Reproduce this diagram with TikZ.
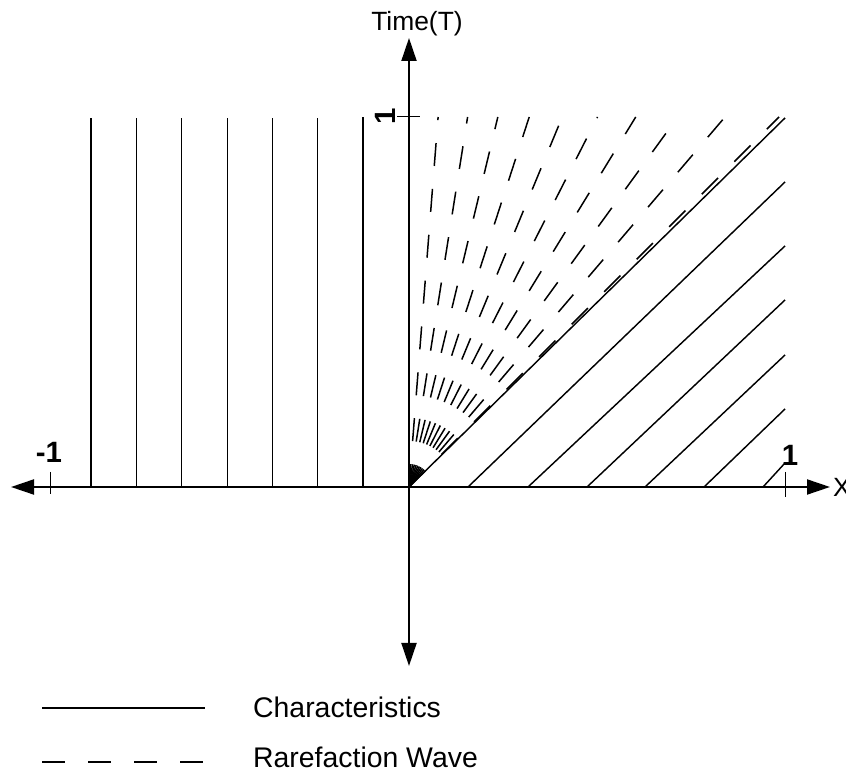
\documentclass[tikz,border=0pt]{standalone}
\usepackage{fontspec}
\setmainfont{Liberation Sans}
\usetikzlibrary{arrows.meta}
\tikzset{
  axisline/.style={line width=2bp, arrows={Triangle[length=23bp, width=15bp]-Triangle[length=23bp, width=15bp]}},
  charline/.style={line width=1.45bp},
  fanline/.style={line width=1.5bp, dash pattern=on 23bp off 23bp},
  tickline/.style={line width=0.9bp},
  lbl/.style={inner sep=0pt, font=\fontsize{26.5}{30}\selectfont},
  numlbl/.style={inner sep=0pt, font=\fontsize{29.5}{32}\selectfont\bfseries},
  legtxt/.style={inner sep=0pt, anchor=base west, font=\fontsize{28.5}{32}\selectfont},
}
\begin{document}
\begin{tikzpicture}[x=1bp, y=1bp]
\useasboundingbox (0,0) rectangle (846,778);
% origin and axis ends
\coordinate (O) at (409,291);
\coordinate (xl) at (11,291);
\coordinate (xr) at (830,291);
\coordinate (yb) at (409,112);
\coordinate (yt) at (409,740);
% left vertical characteristics
\foreach \i/\x in {1/91,2/136.7,3/181.7,4/227.3,5/272.7,6/317.7}{
  \coordinate (vb\i) at (\x,291);
  \coordinate (vt\i) at (\x,660);
  \draw[charline] (vb\i) -- (vt\i);
}
\coordinate (vb7) at (362.7,291);
\coordinate (vt7) at (362.7,661);
\draw[charline, line width=1.8bp] (vb7) -- (vt7);
% right slanted characteristics
\foreach \i/\x/\y in {1/409/660,2/468/596,3/528/532,4/587/478,5/645/423,6/704/369,7/763/315}{
  \coordinate (db\i) at (\x,291);
  \coordinate (de\i) at (785,\y);
  \draw[charline] (db\i) -- (de\i);
}
% rarefaction fan
\foreach \k in {1,...,10}{
  \coordinate (r\k) at ({409+370*tan(4.5*\k)},661);
  \draw[fanline] (O) -- (r\k);
}
% axes
\draw[axisline] (xl) -- (xr);
\draw[axisline] (yb) -- (yt);
% ticks
\coordinate (t1a) at (397,662); \coordinate (t1b) at (420,662);
\draw[tickline] (t1a) -- (t1b);
\coordinate (tla) at (50,306); \coordinate (tlb) at (50,284);
\draw[tickline] (tla) -- (tlb);
\coordinate (tra) at (785,306); \coordinate (trb) at (785,281);
\draw[tickline] (tra) -- (trb);
% labels
\node[lbl, anchor=base] (time) at (417,747) {Time(T)};
\node[numlbl, rotate=90] (one) at (385,662) {1};
\node[numlbl] (mone) at (49,326) {-1};
\node[numlbl] (onex) at (790,323) {1};
\node[lbl, anchor=west] (xlab) at (833,291) {X};
% legend
\coordinate (ls1) at (42,70); \coordinate (ls2) at (205,70);
\draw[charline] (ls1) -- (ls2);
\coordinate (ld1) at (42,16); \coordinate (ld2) at (203,16);
\draw[fanline] (ld1) -- (ld2);
\node[legtxt] (lc) at (253,60) {Characteristics};
\node[legtxt] (lr) at (253,10) {Rarefaction Wave};
\end{tikzpicture}
\end{document}
